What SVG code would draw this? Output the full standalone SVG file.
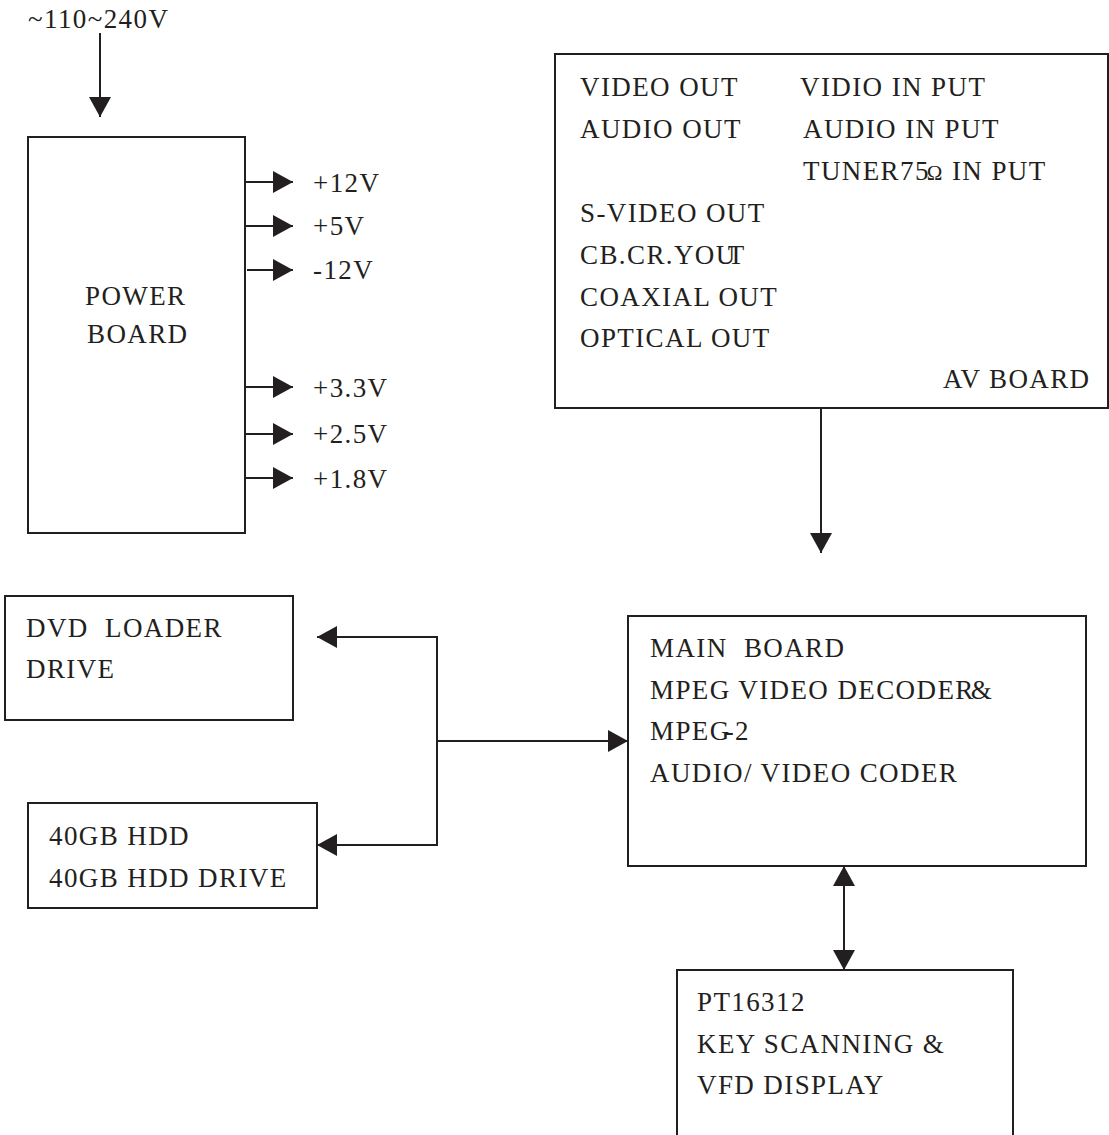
<svg xmlns="http://www.w3.org/2000/svg" width="1109" height="1135" viewBox="0 0 1109 1135">
  <style>
    .box { fill: none; stroke: #231f20; stroke-width: 2; }
    .wire { fill: none; stroke: #231f20; stroke-width: 2; }
    .arrow { marker-end: url(#head); }
    text { font-family: "Liberation Serif", "Times New Roman", serif; font-size: 27px; fill: #231f20; letter-spacing: 1.4px; }
  </style>
  <defs>
    <marker id="head" markerUnits="userSpaceOnUse" markerWidth="20" markerHeight="22" viewBox="0 0 20 22" refX="20" refY="11" orient="auto-start-reverse">
      <path d="M0,0 L20,11 L0,22 z" fill="#231f20"/>
    </marker>
  </defs>

  <rect width="1109" height="1135" fill="#ffffff"/>

  <!-- mains input label -->
  <text x="28" y="28">~110~240V</text>

  <!-- power board -->
  <g id="power-board">
    <rect class="box" x="28" y="137" width="217" height="396"/>
    <text x="85" y="305">POWER</text>
    <text x="87" y="343">BOARD</text>
  </g>

  <!-- supply rail labels -->
  <g id="power-rails">
    <text x="313" y="192">+12V</text>
    <text x="313" y="235">+5V</text>
    <text x="313" y="279">-12V</text>
    <text x="313" y="397">+3.3V</text>
    <text x="313" y="443">+2.5V</text>
    <text x="313" y="488">+1.8V</text>
  </g>

  <!-- AV board -->
  <g id="av-board">
    <rect class="box" x="555" y="54" width="553" height="354"/>
    <text x="580" y="96">VIDEO OUT</text>
    <text x="580" y="138">AUDIO OUT</text>
    <text x="580" y="222">S-VIDEO OUT</text>
    <text x="580" y="264">CB.CR.YOU<tspan dx="-9">T</tspan></text>
    <text x="580" y="306">COAXIAL OUT</text>
    <text x="580" y="347">OPTICAL OUT</text>
    <text x="800" y="96">VIDIO IN PUT</text>
    <text x="803" y="138">AUDIO IN PUT</text>
    <text x="803" y="180">TUNER75<tspan dx="-3" font-size="21">Ω</tspan>  IN PUT</text>
    <text x="943" y="388">AV BOARD</text>
  </g>

  <!-- DVD loader -->
  <g id="dvd-loader">
    <rect class="box" x="5" y="596" width="288" height="124"/>
    <text x="26" y="637" xml:space="preserve">DVD  LOADER</text>
    <text x="26" y="678">DRIVE</text>
  </g>

  <!-- hard disk -->
  <g id="hdd">
    <rect class="box" x="28" y="803" width="289" height="105"/>
    <text x="49" y="845">40GB HDD</text>
    <text x="49" y="887">40GB HDD DRIVE</text>
  </g>

  <!-- main board -->
  <g id="main-board">
    <rect class="box" x="628" y="616" width="458" height="250"/>
    <text x="650" y="657" xml:space="preserve">MAIN  BOARD</text>
    <text x="650" y="699">MPEG VIDEO DECODER<tspan dx="-4">&amp;</tspan></text>
    <text x="650" y="740">MPEG<tspan dx="-6">-</tspan>2</text>
    <text x="650" y="782">AUDIO/ VIDEO CODER</text>
  </g>

  <!-- front panel controller -->
  <g id="front-panel">
    <rect class="box" x="677" y="970" width="336" height="180"/>
    <text x="697" y="1011">PT16312</text>
    <text x="697" y="1053">KEY SCANNING &amp;</text>
    <text x="697" y="1094">VFD DISPLAY</text>
  </g>

  <!-- connectors -->
  <g id="connectors">
    <line class="wire arrow" x1="100" y1="33" x2="100" y2="117"/>
    <line class="wire arrow" x1="245" y1="182" x2="293" y2="182"/>
    <line class="wire arrow" x1="245" y1="226" x2="293" y2="226"/>
    <line class="wire arrow" x1="247" y1="270" x2="293" y2="270"/>
    <line class="wire arrow" x1="245" y1="387" x2="293" y2="387"/>
    <line class="wire arrow" x1="245" y1="434" x2="293" y2="434"/>
    <line class="wire arrow" x1="245" y1="478" x2="293" y2="478"/>
    <line class="wire arrow" x1="821" y1="408" x2="821" y2="553"/>
    <path class="wire arrow" d="M437,741 V637 H317"/>
    <path class="wire arrow" d="M437,741 V845 H317"/>
    <line class="wire arrow" x1="437" y1="741" x2="628" y2="741"/>
    <line class="wire arrow" x1="844" y1="866" x2="844" y2="970" marker-start="url(#head)"/>
  </g>
</svg>
